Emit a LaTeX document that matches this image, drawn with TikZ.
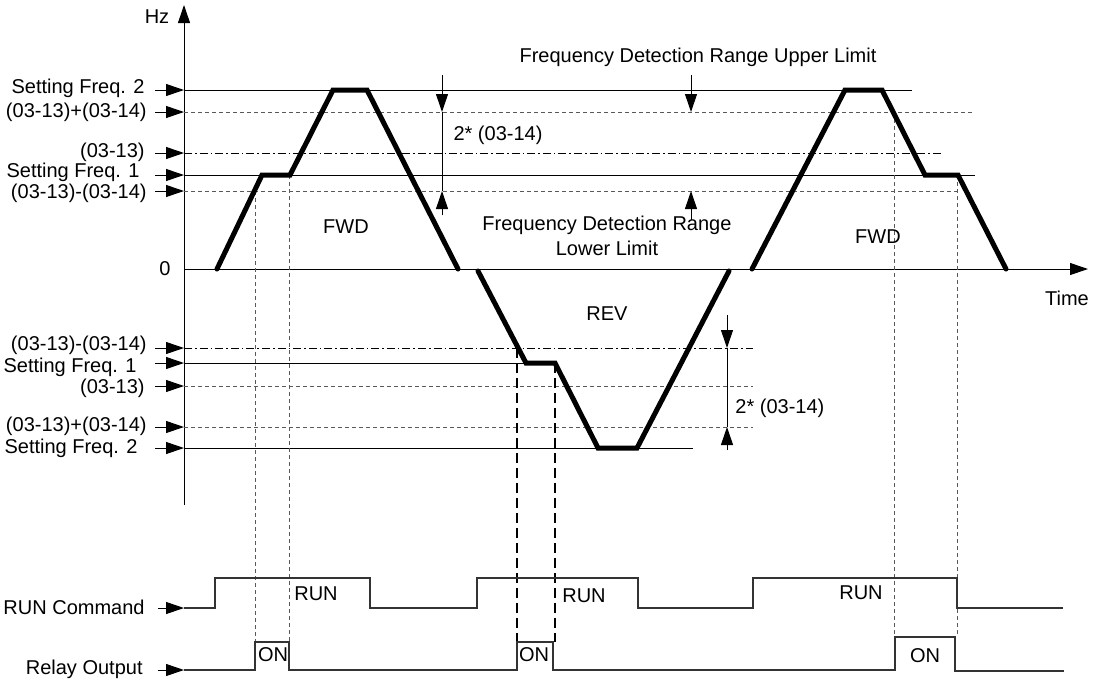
\documentclass[tikz,border=0pt]{standalone}
\usepackage{fontspec}
\setmainfont{Liberation Sans}
\usetikzlibrary{arrows.meta}
\begin{document}
\begin{tikzpicture}[x=0.5pt,y=-0.5pt,
  font=\fontsize{10}{12.5}\selectfont,
  lvl/.style={line width=0.5pt, black},
  lvldash/.style={line width=0.5pt, black!65, dash pattern=on 2pt off 1.5pt},
  lvldashdot/.style={line width=0.5pt, black, dash pattern=on 4pt off 1.5pt on 0.8pt off 1.5pt},
  vdash/.style={line width=0.5pt, black!65, dash pattern=on 2pt off 1.5pt},
  vdashbold/.style={line width=0.8pt, black, dash pattern=on 5pt off 2.5pt},
  profile/.style={line width=2.5pt, line join=miter, line cap=round},
  pulse/.style={line width=0.6pt, black!80},
  ptr/.style={-{Triangle[length=9pt,width=6pt]}, line width=0.5pt},
  lbl/.style={anchor=east, inner sep=0pt},
  txt/.style={inner sep=0pt},
]
\useasboundingbox (0,0) rectangle (1097,681);

% axes
\coordinate (yb) at (184,505);
\coordinate (yt) at (184,5);
\coordinate (xo) at (184,269);
\coordinate (xe) at (1088,269);
\draw[ptr] (yb) -- (yt);
\draw[ptr] (xo) -- (xe);
\node[txt] (hz) at (157,17) {Hz};
\node[txt] (zero) at (165,269) {0};
\node[txt] (time) at (1067,298) {Time};

% upper level lines
\draw[lvl] (184,90) -- (912,90);
\draw[lvldash] (184,112) -- (975,112);
\draw[lvldashdot] (184,153) -- (943,153);
\draw[lvl] (184,175) -- (975,175);
\draw[lvldash] (184,191) -- (957,191);

% lower level lines
\draw[lvldashdot] (184,348) -- (753,348);
\draw[lvl] (184,363) -- (555,363);
\draw[lvldash] (184,386) -- (753,386);
\draw[lvldash] (184,427) -- (753,427);
\draw[lvl] (184,448) -- (693,448);

% left labels (upper)
\node[lbl] (u1) at (145,88) {Setting Freq. 2};
\node[lbl] (u2) at (147,112) {(03-13)+(03-14)};
\node[lbl] (u3) at (145,152) {(03-13)};
\node[lbl] (u4) at (140,172) {Setting Freq. 1};
\node[lbl] (u5) at (147,193) {(03-13)-(03-14)};
\foreach \n/\y in {1/90,2/112,3/153,4/175,5/191}{
  \coordinate (us\n) at (155,\y);
  \coordinate (ua\n) at (184,\y);
  \draw[ptr] (us\n) -- (ua\n);
}
% left labels (lower)
\node[lbl] (l1) at (147,345) {(03-13)-(03-14)};
\node[lbl] (l2) at (137,367) {Setting Freq. 1};
\node[lbl] (l3) at (145,388) {(03-13)};
\node[lbl] (l4) at (147,426) {(03-13)+(03-14)};
\node[lbl] (l5) at (138,448) {Setting Freq. 2};
\foreach \n/\y in {1/348,2/363,3/386,4/427,5/448}{
  \coordinate (ls\n) at (155,\y);
  \coordinate (la\n) at (184,\y);
  \draw[ptr] (ls\n) -- (la\n);
}

% vertical dashed guides
\draw[vdash] (255,191) -- (255,642);
\draw[vdash] (289,175) -- (289,642);
\draw[vdashbold] (517,348) -- (517,642);
\draw[vdashbold] (555,363) -- (555,642);
\draw[vdash] (894,112) -- (894,637);
\draw[vdash] (957,175) -- (957,637);

% frequency profile
\draw[profile] (217,269) -- (262,175) -- (290,175) -- (333,90) -- (367,90) -- (458,269);
\draw[profile] (478,271) -- (526,363) -- (555,363) -- (598,448) -- (637,448) -- (729,271);
\draw[profile] (752,269) -- (845,90) -- (882,90) -- (925,175) -- (958,175) -- (1006,269);

% dimension arrows
\coordinate (d1t) at (442,75); \coordinate (d1a) at (442,112);
\coordinate (d1b) at (442,215); \coordinate (d1c) at (442,191);
\draw[ptr] (d1t) -- (d1a);
\draw[lvl] (d1a) -- (d1c);
\draw[ptr] (d1b) -- (d1c);
\node[txt] (dim1) at (498,135) {2* (03-14)};

\coordinate (d2t) at (691,75); \coordinate (d2a) at (691,112);
\coordinate (d2b) at (691,220); \coordinate (d2c) at (691,191);
\draw[ptr] (d2t) -- (d2a);
\draw[ptr] (d2b) -- (d2c);

\coordinate (d3t) at (727,315); \coordinate (d3a) at (727,348);
\coordinate (d3b) at (727,450); \coordinate (d3c) at (727,427);
\draw[ptr] (d3t) -- (d3a);
\draw[lvl] (d3a) -- (d3c);
\draw[ptr] (d3b) -- (d3c);
\node[txt, anchor=west] (dim2) at (735,408) {2* (03-14)};

% texts
\node[txt] (upper) at (698,57) {Frequency Detection Range Upper Limit};
\node[txt, align=center] (lower) at (607,236) {Frequency Detection Range\\Lower Limit};
\node[txt] (fwd1) at (346,227) {FWD};
\node[txt] (rev) at (607,314) {REV};
\node[txt] (fwd2) at (878,237) {FWD};

% RUN command
\node[lbl] (runc) at (145,607) {RUN Command};
\coordinate (rs) at (158,608); \coordinate (ra) at (184,608);
\draw[ptr] (rs) -- (ra);
\draw[pulse] (ra) -- (215,608) -- (215,578) -- (370,578) -- (370,608) -- (477,608) -- (477,578)
  -- (638,578) -- (638,608) -- (753,608) -- (753,578) -- (957,578) -- (957,608) -- (1063,608);
\node[txt] (run1) at (316,594) {RUN};
\node[txt] (run2) at (584,596) {RUN};
\node[txt] (run3) at (861,593) {RUN};

% relay output
\node[lbl] (relay) at (143,669) {Relay Output};
\coordinate (qs) at (158,670); \coordinate (qa) at (184,670);
\draw[ptr] (qs) -- (qa);
\draw[pulse] (qa) -- (255,670) -- (255,642) -- (289,642) -- (289,670) -- (517,670) -- (517,642)
  -- (553,642) -- (553,670) -- (895,670) -- (895,637) -- (955,637) -- (955,671) -- (1064,671);
\node[txt] (on1) at (273,655) {ON};
\node[txt] (on2) at (534,655) {ON};
\node[txt] (on3) at (925,656) {ON};
\end{tikzpicture}
\end{document}
